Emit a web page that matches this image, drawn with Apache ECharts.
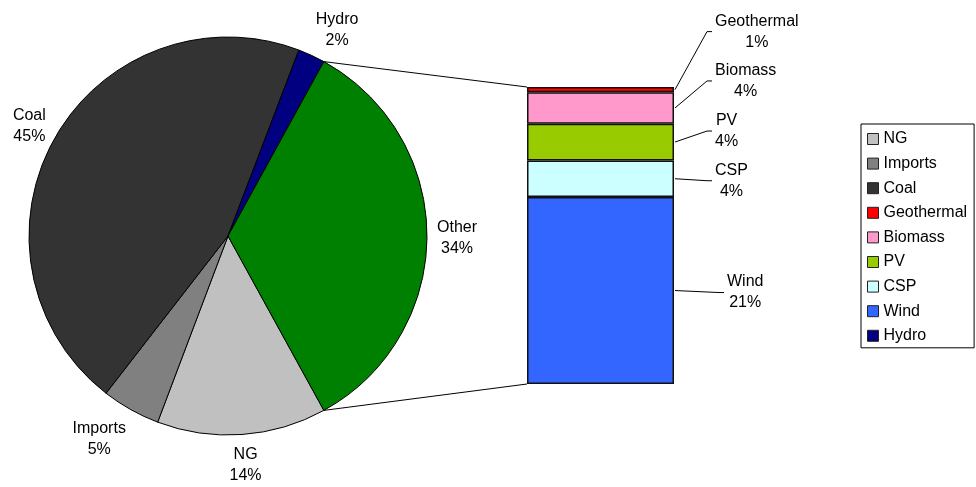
<!DOCTYPE html>
<html>
<head>
<meta charset="utf-8">
<script src="https://cdn.jsdelivr.net/npm/echarts@6/dist/echarts.min.js"></script>
<style>
  html, body { margin: 0; padding: 0; background: #fff; }
  #chart { width: 976px; height: 487px; }
</style>
</head>
<body>
<div id="chart"></div>
<script>
// main pie (the "Other" slice is the sum of the bar below)
var pieNames = ['NG', 'Imports', 'Coal', 'Hydro'];
var pieValues = [13.75, 4.75, 45.3, 2.2];
var pieColors = ['#c0c0c0', '#808080', '#333333', '#000080'];
var otherName = 'Other';
var otherColor = '#008000';

// breakdown of "Other", listed top to bottom
var barNames = ['Geothermal', 'Biomass', 'PV', 'CSP', 'Wind'];
var barValues = [0.6, 3.6, 4.2, 4.2, 21.4];
var barColors = ['#ff0000', '#ff99cc', '#99cc00', '#ccffff', '#3366ff'];

var legendNames = ['NG', 'Imports', 'Coal', 'Geothermal', 'Biomass', 'PV', 'CSP', 'Wind', 'Hydro'];

var FONT = '"Liberation Sans", Arial, sans-serif';
var pieCx = 228, pieCy = 236, pieR = 199;
var barLeft = 527, barTop = 87, barW = 147, barH = 297;
// label offset [right of bar, up/down from segment middle]
var barLabelShift = {
  Geothermal: [41, -58],
  Biomass: [41, -27],
  PV: [41, -11],
  CSP: [41, 2],
  Wind: [53, 2]
};

var otherValue = barValues.reduce(function(a, b) { return a + b; }, 0);
var pieTotal = pieValues.reduce(function(a, b) { return a + b; }, 0) + otherValue;
// keep "Other" centred on 3 o'clock
var startAngle = -otherValue / pieTotal * 180;

var pieData = pieNames.map(function(n, i) {
  return { name: n, value: pieValues[i], itemStyle: { color: pieColors[i] } };
});
pieData.push({ name: otherName, value: otherValue, itemStyle: { color: otherColor } });

// mid angle of each slice (radians, maths orientation)
var midAngles = [];
(function() {
  var a = startAngle;
  pieData.forEach(function(d) {
    var deg = d.value / pieTotal * 360;
    midAngles.push((a - deg / 2) * Math.PI / 180);
    a -= deg;
  });
})();

var richText = {
  c: { align: 'center', fontSize: 16, lineHeight: 21, color: '#000', fontFamily: FONT }
};

function clamp(v) { return Math.max(-1, Math.min(1, v)); }

var container = document.getElementById('chart');
var chart = echarts.init(container);

var series = [{
  name: 'Sources',
  type: 'pie',
  center: [pieCx, pieCy],
  radius: pieR,
  startAngle: startAngle,
  clockwise: true,
  avoidLabelOverlap: false,
  data: pieData,
  itemStyle: { borderColor: '#000', borderWidth: 1 },
  emphasis: { disabled: true },
  label: {
    show: true,
    position: 'outside',
    overflow: 'none',
    bleedMargin: 0,
    formatter: function(p) {
      return '{c|' + p.name + '}\n{c|' + Math.round(p.percent) + '%}';
    },
    rich: richText
  },
  labelLine: { show: false },
  // push each label box out from the rim, Excel style
  labelLayout: function(p) {
    var m = midAngles[p.dataIndex];
    var dx = Math.cos(m), dy = -Math.sin(m);
    var px = pieCx + dx * (pieR + 10), py = pieCy + dy * (pieR + 10);
    var w = p.labelRect.width, h = p.labelRect.height;
    return {
      x: px + w / 2 * clamp(2.5 * dx),
      y: py + h / 2 * clamp(1.1 * dy) + 2.5,
      align: 'center',
      verticalAlign: 'middle'
    };
  }
}];

// bar stacks bottom-up, so go through the list in reverse
for (var i = barNames.length - 1; i >= 0; i--) {
  var shift = barLabelShift[barNames[i]];
  series.push({
    name: barNames[i],
    type: 'bar',
    stack: 'other',
    barWidth: '100%',
    data: [barValues[i]],
    itemStyle: { color: barColors[i], borderColor: '#111', borderWidth: 1.5 },
    emphasis: { disabled: true },
    label: {
      show: true,
      position: 'right',
      distance: 0,
      offset: shift,
      formatter: function(p) {
        return '{c|' + p.seriesName + '}\n{c|' + Math.round(p.value) + '%}';
      },
      rich: richText
    }
  });
}

var option = {
  backgroundColor: '#fff',
  animation: false,
  textStyle: { fontFamily: FONT },
  grid: { left: barLeft, top: barTop, width: barW, height: barH, containLabel: false },
  xAxis: { type: 'category', data: [otherName], show: false },
  yAxis: { type: 'value', min: 0, max: otherValue, show: false },
  legend: {
    data: legendNames,
    orient: 'vertical',
    left: 861,
    top: 124,
    padding: [7, 7, 4, 6],
    itemGap: 8.6,
    itemWidth: 11,
    itemHeight: 11,
    icon: 'rect',
    selectedMode: false,
    borderColor: '#000',
    borderWidth: 1,
    itemStyle: { borderColor: '#222', borderWidth: 1 },
    textStyle: { fontSize: 16, color: '#000', fontFamily: FONT }
  },
  series: series
};

chart.setOption(option);

// connector lines and label leaders
var lines = [];
var aTop = -startAngle * Math.PI / 180;
var ex = pieCx + pieR * Math.cos(aTop);
var yTop = chart.convertToPixel({ yAxisIndex: 0 }, otherValue);
var yBot = chart.convertToPixel({ yAxisIndex: 0 }, 0);
lines.push([[ex, pieCy - pieR * Math.sin(aTop)], [barLeft, yTop]]);
lines.push([[ex, pieCy + pieR * Math.sin(aTop)], [barLeft, yBot]]);

var barRight = barLeft + barW;
var acc = otherValue;
barNames.forEach(function(n, i) {
  var mid = chart.convertToPixel({ yAxisIndex: 0 }, acc - barValues[i] / 2);
  acc -= barValues[i];
  var s = barLabelShift[n];
  var lx = barRight + s[0], ly = mid + s[1];
  lines.push([[barRight + 1, mid], [lx - 8, ly], [lx - 3, ly]]);
});

chart.setOption({
  graphic: lines.map(function(pts) {
    return {
      type: 'polyline',
      silent: true,
      z: 1,
      shape: { points: pts },
      style: { stroke: '#000', lineWidth: 1, fill: null }
    };
  })
});
</script>
</body>
</html>
